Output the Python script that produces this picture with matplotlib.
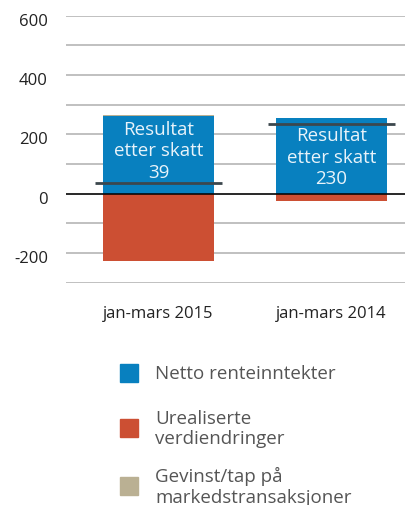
import matplotlib
matplotlib.use("Agg")
import matplotlib.pyplot as plt
from matplotlib.patches import Rectangle
from matplotlib.transforms import ScaledTranslation

plt.rcParams["font.family"] = ["Open Sans", "DejaVu Sans"]

# data
periods = ["jan-mars 2015", "jan-mars 2014"]
netto_renteinntekter = [263, 254]
urealiserte = [-228, -25]
gevinst_tap = [3, 0]
resultat = [39, 230]
resultat_line = [37, 234]

series_labels = ["Netto renteinntekter", "Urealiserte\nverdiendringer",
                 "Gevinst/tap på\nmarkedstransaksjoner"]

BLUE = "#0880bf"
RED = "#cc4f33"
TAN = "#bab093"
colors = [BLUE, RED, TAN]

fig = plt.figure(figsize=(4.06, 5.06), dpi=100)
ax = fig.add_axes([0.1626, 0.4393, 0.8374, 0.5277])

x = list(range(len(periods)))
w = 0.64
ax.bar(x, netto_renteinntekter, width=w, color=BLUE, zorder=2)
ax.bar(x, urealiserte, width=w, color=RED, zorder=2)
ax.bar(x, gevinst_tap, width=w, bottom=netto_renteinntekter, color=TAN, zorder=2)

# result lines
for i, r in zip(x, resultat_line):
    ax.hlines(r, i - 0.365, i + 0.365, color="#3c474d", linewidth=2, zorder=4)

# text inside the blue bars
text_y = [147, 125]
for i, r, ty in zip(x, resultat, text_y):
    ax.text(i, ty, f"Resultat\netter skatt\n{r}", ha="center", va="center",
            color="#e8f3fa", fontsize=13.5, linespacing=1.25, zorder=5)

ax.set_xlim(-0.535, 1.431)
ax.set_ylim(-300, 600)
ax.set_yticks(range(-300, 601, 100))
ax.set_yticklabels(["" if v % 200 else str(v) for v in range(-300, 601, 100)],
                   fontsize=12, color="#222222")
ax.set_xticks(x)
ax.set_xticklabels(periods, fontsize=12, color="#222222")
ax.tick_params(axis="both", length=0)
ax.tick_params(axis="y", pad=13)
ax.tick_params(axis="x", pad=16)
shift = ScaledTranslation(0, -3 / 100, fig.dpi_scale_trans)
for lbl in ax.get_yticklabels():
    lbl.set_transform(lbl.get_transform() + shift)
ax.grid(axis="y", color="#b5b5b5", linewidth=1.2, zorder=0)
ax.axhline(0, color="black", linewidth=1.1, zorder=3)
for s in ax.spines.values():
    s.set_visible(False)

# legend drawn by hand
leg_y = [374, 429, 487]
for lab, col, py in zip(series_labels, colors, leg_y):
    fy = 1 - py / 506
    fig.add_artist(Rectangle((120 / 406, fy - 9 / 506), 18 / 406, 18 / 506,
                             transform=fig.transFigure, color=col))
    fig.text(155 / 406, fy, lab, ha="left", va="center", fontsize=13.5,
             color="#555555", linespacing=1.2)

fig.savefig("out.png", dpi=100)
